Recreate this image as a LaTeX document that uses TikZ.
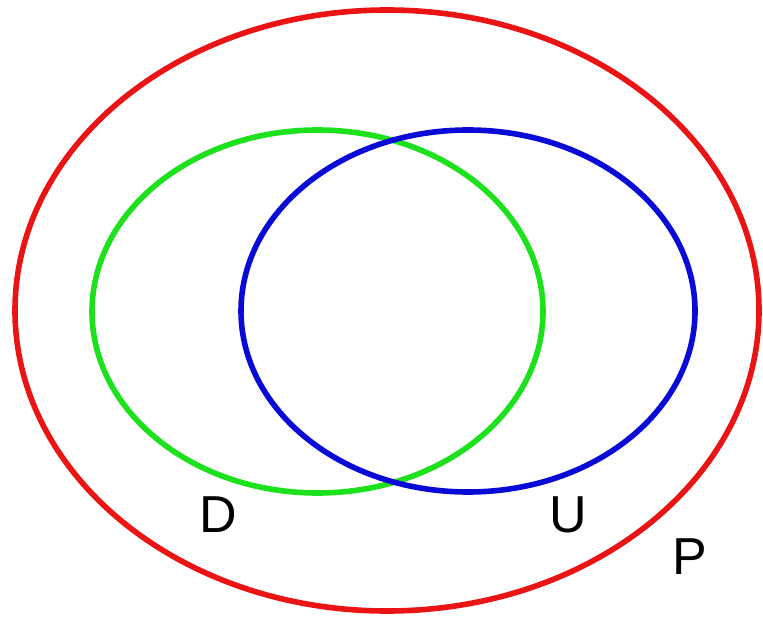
\documentclass[tikz,border=0pt]{standalone}
\usepackage{fontspec}
\setmainfont{Liberation Sans}
\usetikzlibrary{positioning}
\definecolor{setred}{RGB}{235,20,20}
\definecolor{setgreen}{RGB}{30,225,30}
\definecolor{setblue}{RGB}{10,10,215}
\tikzset{
 setline/.style={line width=2.8pt},
 setlabel/.style={font=\fontsize{26}{30}\selectfont,inner sep=0pt}
}

\begin{document}
\begin{tikzpicture}[x=0.5pt,y=-0.5pt]
\useasboundingbox (0,0) rectangle (763,619);
\draw[setline,setred] (387,310.5) ellipse [x radius=372,y radius=300.5];
\draw[setline,setgreen] (317.5,311.5) ellipse [x radius=225.5,y radius=181.5];
\draw[setline,setblue] (468,311) ellipse [x radius=227,y radius=181];
\node[setlabel] (dlabel) at (218,515) {D};
\node[setlabel] (ulabel) at (568,515) {U};
\node[setlabel] (plabel) at (690,557) {P};
\end{tikzpicture}
\end{document}
